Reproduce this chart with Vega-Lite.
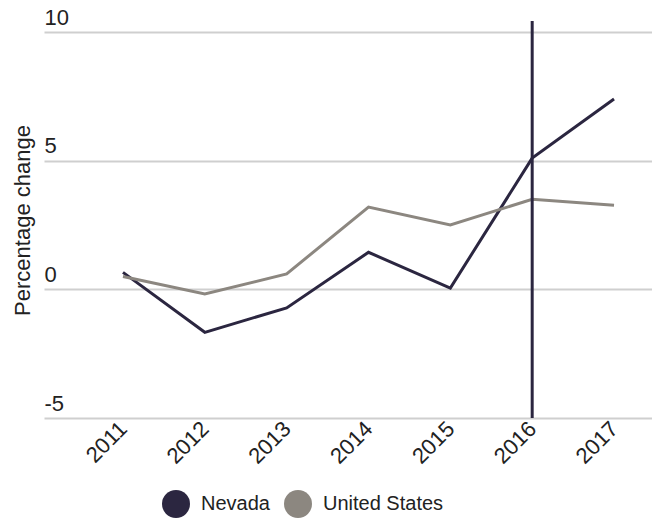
{
  "$schema": "https://vega.github.io/schema/vega-lite/v6.json",
  "width": 608,
  "height": 397,
  "autosize": "none",
  "padding": {"left": 44, "top": 21, "right": 0, "bottom": 107},
  "config": {"view": {"stroke": null}, "font": "Liberation Sans"},
  "data": {
    "values": [
      {"year": 2011, "region": "Nevada", "change": 0.66},
      {"year": 2012, "region": "Nevada", "change": -1.67},
      {"year": 2013, "region": "Nevada", "change": -0.72},
      {"year": 2014, "region": "Nevada", "change": 1.44},
      {"year": 2015, "region": "Nevada", "change": 0.05},
      {"year": 2016, "region": "Nevada", "change": 5.1},
      {"year": 2017, "region": "Nevada", "change": 7.4},
      {"year": 2011, "region": "United States", "change": 0.5},
      {"year": 2012, "region": "United States", "change": -0.18},
      {"year": 2013, "region": "United States", "change": 0.6},
      {"year": 2014, "region": "United States", "change": 3.2},
      {"year": 2015, "region": "United States", "change": 2.5},
      {"year": 2016, "region": "United States", "change": 3.5},
      {"year": 2017, "region": "United States", "change": 3.27}
    ]
  },
  "layer": [
    {
      "mark": {"type": "line", "strokeWidth": 3},
      "encoding": {
        "x": {
          "field": "year",
          "type": "quantitative",
          "scale": {"domain": [2010.035, 2017.464], "nice": false, "zero": false},
          "axis": {
            "values": [2011, 2012, 2013, 2014, 2015, 2016, 2017],
            "format": "d",
            "labelAngle": -45,
            "labelAlign": "right",
            "labelBaseline": "middle",
            "labelPadding": 7,
            "labelFontSize": 22,
            "labelColor": "#222222",
            "grid": false,
            "domain": false,
            "ticks": false,
            "title": null
          }
        },
        "y": {
          "field": "change",
          "type": "quantitative",
          "scale": {"domain": [-5, 10.43], "nice": false, "zero": false},
          "axis": {
            "values": [-5, 0, 5, 10],
            "labelExpr": "'' + datum.value",
            "grid": true,
            "gridColor": "#cfcfcf",
            "gridWidth": 2,
            "domain": false,
            "ticks": false,
            "labelAlign": "left",
            "labelBaseline": "alphabetic",
            "labelPadding": 0,
            "labelOffset": -8,
            "labelFontSize": 22,
            "labelColor": "#222222",
            "title": "Percentage change",
            "titleFontSize": 22,
            "titleFontWeight": "normal",
            "titleColor": "#222222",
            "titleAngle": -90,
            "titleAlign": "center",
            "titleBaseline": "middle",
            "titleX": -22,
            "titleY": 199
          }
        },
        "color": {
          "field": "region",
          "type": "nominal",
          "scale": {"domain": ["Nevada", "United States"], "range": ["#2B2640", "#8C8780"]},
          "legend": {
            "title": null,
            "orient": "none",
            "direction": "horizontal",
            "legendX": 118,
            "legendY": 469,
            "padding": 0,
            "symbolType": "circle",
            "symbolSize": 784,
            "labelFontSize": 20,
            "labelColor": "#222222",
            "labelOffset": 11,
            "columnPadding": 14,
            "encode": {
              "symbols": {
                "update": {
                  "fill": {"scale": "color", "field": "value"},
                  "strokeWidth": {"value": 0}
                }
              }
            }
          }
        }
      }
    },
    {
      "transform": [{"filter": "datum.year == 2016 && datum.region == 'Nevada'"}],
      "mark": {"type": "rule", "strokeWidth": 3, "color": "#2B2640"},
      "encoding": {
        "x": {"field": "year", "type": "quantitative"}
      }
    }
  ]
}
